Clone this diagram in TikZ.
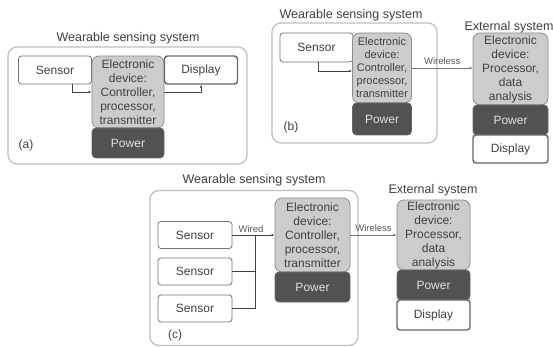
\documentclass[tikz,border=0pt]{standalone}
\usepackage{fontspec}
\setmainfont{Liberation Sans}
\usetikzlibrary{arrows.meta}

\begin{document}
\begin{tikzpicture}[x=1pt,y=-1pt,
		every node/.style={text=black!75,font=\fontsize{12}{14}\selectfont,align=center,inner sep=0pt},
		outerbox/.style={draw=black!25,line width=1.3pt,rounded corners=9pt},
		sensorbox/.style={draw=black!55,line width=0.8pt,fill=white,rounded corners=3pt},
		elecbox/.style={draw=black!45,line width=0.8pt,fill=black!20,rounded corners=7pt},
		powerbox/.style={draw=black!60,line width=0.8pt,fill=black!68,text=black!12,rounded corners=4pt},
		displaybox/.style={draw=black!60,line width=1.4pt,fill=white,rounded corners=3pt},
		title/.style={font=\fontsize{12.5}{14}\selectfont},
		small/.style={font=\fontsize{11}{13}\selectfont},
		linklabel/.style={font=\fontsize{9.5}{11}\selectfont,text=black!65},
		wire/.style={draw=black!75,line width=0.6pt,-{Latex[length=3pt,width=2.5pt]}},
		radio/.style={draw=black!55,line width=0.6pt,-{Latex[length=3pt,width=2.5pt]}}]
	\useasboundingbox (0,0) rectangle (553,347);

	\node[outerbox,minimum width=239pt,minimum height=117pt] (outerA) at (127.5,105.5) {};
	\node[title] (titleA) at (128,38) {Wearable sensing system};
	\node[sensorbox,minimum width=73pt,minimum height=28pt] (sensA) at (55,70) {Sensor};
	\node[elecbox,minimum width=72pt,minimum height=72pt] (elecA) at (128,92) {Electronic\\device:\\Controller,\\processor,\\transmitter};
	\node[powerbox,minimum width=72pt,minimum height=30pt] (powA) at (128,143) {Power};
	\node[displaybox,minimum width=73pt,minimum height=28pt] (dispA) at (201,70) {Display};
	\node (labA) at (26,145) {(a)};
	\draw[wire] ([xshift=17pt]sensA.south) |- (elecA.west);
	\draw[wire] (elecA.east) -| (dispA.south);

	\node[outerbox,minimum width=165pt,minimum height=120pt] (outerB) at (354.5,83) {};
	\node[title] (titleB) at (351,15) {Wearable sensing system};
	\node[sensorbox,minimum width=73pt,minimum height=29pt] (sensB) at (316.5,47.5) {Sensor};
	\node[elecbox,small,minimum width=59pt,minimum height=70pt] (elecB) at (382,68) {Electronic\\device:\\Controller,\\processor,\\transmitter};
	\node[powerbox,minimum width=59pt,minimum height=32pt] (powB) at (382,119) {Power};
	\node (labB) at (291,127) {(b)};
	\node[title] (titleExtB) at (509,27) {External system};
	\node[elecbox,minimum width=75pt,minimum height=72pt] (extB) at (510.5,69) {Electronic\\device:\\Processor,\\data\\analysis};
	\node[powerbox,minimum width=75pt,minimum height=30pt] (extPowB) at (510.5,120) {Power};
	\node[displaybox,minimum width=75pt,minimum height=28pt] (extDispB) at (510.5,149) {Display};
	\draw[wire] ([xshift=1.5pt]sensB.south) |- ([yshift=-3pt]elecB.west);
	\draw[radio] (elecB.east) -- (elecB.east -| extB.west) node[linklabel,midway,above=3pt] (wlB) {Wireless};

	\node[outerbox,minimum width=208pt,minimum height=155pt] (outerC) at (254,268) {};
	\node[title] (titleC) at (254,180) {Wearable sensing system};
	\node[sensorbox,minimum width=74pt,minimum height=27pt] (sensC1) at (195,235) {Sensor};
	\node[sensorbox,minimum width=74pt,minimum height=27pt] (sensC2) at (195,271.5) {Sensor};
	\node[sensorbox,minimum width=74pt,minimum height=27pt] (sensC3) at (195,308.5) {Sensor};
	\node[elecbox,minimum width=75pt,minimum height=74pt] (elecC) at (312.5,235) {Electronic\\device:\\Controller,\\processor,\\transmitter};
	\node[powerbox,minimum width=75pt,minimum height=30pt] (powC) at (312.5,287) {Power};
	\node (labC) at (175,335) {(c)};
	\coordinate (busC) at (255,235);
	\draw[wire] (sensC1.east) -- (elecC.west);
	\draw[draw=black!75,line width=0.6pt] (sensC2.east) -- (sensC2.east -| busC);
	\draw[draw=black!75,line width=0.6pt] (sensC3.east) -| (busC);
	\node[linklabel] (wdC) at (251,229) {Wired};
	\node[title] (titleExtC) at (433,190) {External system};
	\node[elecbox,minimum width=73pt,minimum height=70pt] (extC) at (433.5,235) {Electronic\\device:\\Processor,\\data\\analysis};
	\node[powerbox,minimum width=73pt,minimum height=30pt] (extPowC) at (433.5,285) {Power};
	\node[displaybox,minimum width=73pt,minimum height=30pt] (extDispC) at (433.5,315) {Display};
	\draw[radio] (elecC.east) -- (extC.west) node[linklabel,midway,above=3pt] (wlC) {Wireless};
\end{tikzpicture}
\end{document}
